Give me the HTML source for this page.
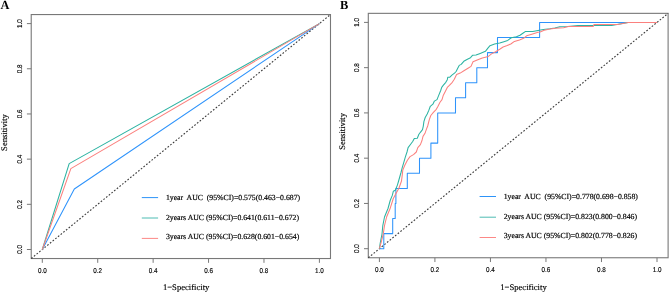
<!DOCTYPE html>
<html><head><meta charset="utf-8"><title>ROC curves</title>
<style>
html,body{margin:0;padding:0;background:#fff;}
body{width:669px;height:293px;overflow:hidden;}
svg{display:block;will-change:transform;}
text{text-rendering:geometricPrecision;}
.tk{font-family:"Liberation Sans",sans-serif;font-size:7px;fill:#000;stroke:#000;stroke-width:0.15px;}
.ttl{font-family:"Liberation Serif",serif;font-size:8.6px;fill:#000;stroke:#000;stroke-width:0.15px;}
.lg{font-family:"Liberation Serif",serif;font-size:7.75px;fill:#000;stroke:#000;stroke-width:0.18px;white-space:pre;}
.pl{font-family:"Liberation Serif",serif;font-size:12.4px;font-weight:bold;fill:#000;}
</style></head>
<body>
<svg width="669" height="293" viewBox="0 0 669 293">
<rect x="31.22" y="14.56" width="299.27" height="243.97" fill="none" stroke="#787878" stroke-width="1.1"/>
<line x1="42.30" y1="258.54" x2="42.30" y2="262.84" stroke="#787878" stroke-width="1"/>
<line x1="31.22" y1="249.50" x2="26.92" y2="249.50" stroke="#787878" stroke-width="1"/>
<text transform="translate(42.30,273.04) scale(0.9,1)" class="tk" text-anchor="middle">0.0</text>
<text transform="translate(22.02,249.50) rotate(-90) scale(0.9,1)" class="tk" text-anchor="middle">0.0</text>
<line x1="97.72" y1="258.54" x2="97.72" y2="262.84" stroke="#787878" stroke-width="1"/>
<line x1="31.22" y1="204.32" x2="26.92" y2="204.32" stroke="#787878" stroke-width="1"/>
<text transform="translate(97.72,273.04) scale(0.9,1)" class="tk" text-anchor="middle">0.2</text>
<text transform="translate(22.02,204.32) rotate(-90) scale(0.9,1)" class="tk" text-anchor="middle">0.2</text>
<line x1="153.14" y1="258.54" x2="153.14" y2="262.84" stroke="#787878" stroke-width="1"/>
<line x1="31.22" y1="159.14" x2="26.92" y2="159.14" stroke="#787878" stroke-width="1"/>
<text transform="translate(153.14,273.04) scale(0.9,1)" class="tk" text-anchor="middle">0.4</text>
<text transform="translate(22.02,159.14) rotate(-90) scale(0.9,1)" class="tk" text-anchor="middle">0.4</text>
<line x1="208.56" y1="258.54" x2="208.56" y2="262.84" stroke="#787878" stroke-width="1"/>
<line x1="31.22" y1="113.96" x2="26.92" y2="113.96" stroke="#787878" stroke-width="1"/>
<text transform="translate(208.56,273.04) scale(0.9,1)" class="tk" text-anchor="middle">0.6</text>
<text transform="translate(22.02,113.96) rotate(-90) scale(0.9,1)" class="tk" text-anchor="middle">0.6</text>
<line x1="263.98" y1="258.54" x2="263.98" y2="262.84" stroke="#787878" stroke-width="1"/>
<line x1="31.22" y1="68.78" x2="26.92" y2="68.78" stroke="#787878" stroke-width="1"/>
<text transform="translate(263.98,273.04) scale(0.9,1)" class="tk" text-anchor="middle">0.8</text>
<text transform="translate(22.02,68.78) rotate(-90) scale(0.9,1)" class="tk" text-anchor="middle">0.8</text>
<line x1="319.40" y1="258.54" x2="319.40" y2="262.84" stroke="#787878" stroke-width="1"/>
<line x1="31.22" y1="23.60" x2="26.92" y2="23.60" stroke="#787878" stroke-width="1"/>
<text transform="translate(319.40,273.04) scale(0.9,1)" class="tk" text-anchor="middle">1.0</text>
<text transform="translate(22.02,23.60) rotate(-90) scale(0.9,1)" class="tk" text-anchor="middle">1.0</text>
<line x1="31.22" y1="258.54" x2="330.48" y2="14.56" stroke="#3c3c3c" stroke-width="1.12" stroke-dasharray="1.7 1.75"/>
<text x="186.15" y="290.34" class="ttl" text-anchor="middle">1−Specificity</text>
<text transform="translate(7.32,132.50) rotate(-90)" class="ttl" text-anchor="middle">Sensitivity</text>
<polyline points="42.30,249.50 74.31,188.96 319.40,23.60" fill="none" stroke="#2e93fb" stroke-width="1.05" stroke-linejoin="round"/>
<polyline points="42.30,249.50 69.18,163.66 319.40,23.60" fill="none" stroke="#2cb3a2" stroke-width="1.05" stroke-linejoin="round"/>
<polyline points="42.30,249.50 70.84,168.63 319.40,23.60" fill="none" stroke="#fb807e" stroke-width="1.05" stroke-linejoin="round"/>
<line x1="141.8" y1="197.6" x2="158.1" y2="197.6" stroke="#2d93f8" stroke-width="1.0"/>
<text x="165.9" y="200.0" class="lg" xml:space="preserve">1year  AUC  (95%CI)=0.575(0.463−0.687)</text>
<line x1="141.8" y1="218.0" x2="158.1" y2="218.0" stroke="#4dbcb3" stroke-width="1.0"/>
<text x="165.9" y="219.7" class="lg" xml:space="preserve">2years AUC (95%CI)=0.641(0.611−0.672)</text>
<line x1="141.8" y1="238.4" x2="158.1" y2="238.4" stroke="#fc8886" stroke-width="1.0"/>
<text x="165.9" y="238.9" class="lg" xml:space="preserve">3years AUC (95%CI)=0.628(0.601−0.654)</text>
<rect x="368.30" y="13.35" width="299.81" height="244.40" fill="none" stroke="#787878" stroke-width="1.1"/>
<line x1="379.40" y1="257.75" x2="379.40" y2="262.05" stroke="#787878" stroke-width="1"/>
<line x1="368.30" y1="248.70" x2="364.00" y2="248.70" stroke="#787878" stroke-width="1"/>
<text transform="translate(379.40,272.25) scale(0.9,1)" class="tk" text-anchor="middle">0.0</text>
<text transform="translate(359.10,248.70) rotate(-90) scale(0.9,1)" class="tk" text-anchor="middle">0.0</text>
<line x1="434.92" y1="257.75" x2="434.92" y2="262.05" stroke="#787878" stroke-width="1"/>
<line x1="368.30" y1="203.44" x2="364.00" y2="203.44" stroke="#787878" stroke-width="1"/>
<text transform="translate(434.92,272.25) scale(0.9,1)" class="tk" text-anchor="middle">0.2</text>
<text transform="translate(359.10,203.44) rotate(-90) scale(0.9,1)" class="tk" text-anchor="middle">0.2</text>
<line x1="490.44" y1="257.75" x2="490.44" y2="262.05" stroke="#787878" stroke-width="1"/>
<line x1="368.30" y1="158.18" x2="364.00" y2="158.18" stroke="#787878" stroke-width="1"/>
<text transform="translate(490.44,272.25) scale(0.9,1)" class="tk" text-anchor="middle">0.4</text>
<text transform="translate(359.10,158.18) rotate(-90) scale(0.9,1)" class="tk" text-anchor="middle">0.4</text>
<line x1="545.96" y1="257.75" x2="545.96" y2="262.05" stroke="#787878" stroke-width="1"/>
<line x1="368.30" y1="112.92" x2="364.00" y2="112.92" stroke="#787878" stroke-width="1"/>
<text transform="translate(545.96,272.25) scale(0.9,1)" class="tk" text-anchor="middle">0.6</text>
<text transform="translate(359.10,112.92) rotate(-90) scale(0.9,1)" class="tk" text-anchor="middle">0.6</text>
<line x1="601.48" y1="257.75" x2="601.48" y2="262.05" stroke="#787878" stroke-width="1"/>
<line x1="368.30" y1="67.66" x2="364.00" y2="67.66" stroke="#787878" stroke-width="1"/>
<text transform="translate(601.48,272.25) scale(0.9,1)" class="tk" text-anchor="middle">0.8</text>
<text transform="translate(359.10,67.66) rotate(-90) scale(0.9,1)" class="tk" text-anchor="middle">0.8</text>
<line x1="657.00" y1="257.75" x2="657.00" y2="262.05" stroke="#787878" stroke-width="1"/>
<line x1="368.30" y1="22.40" x2="364.00" y2="22.40" stroke="#787878" stroke-width="1"/>
<text transform="translate(657.00,272.25) scale(0.9,1)" class="tk" text-anchor="middle">1.0</text>
<text transform="translate(359.10,22.40) rotate(-90) scale(0.9,1)" class="tk" text-anchor="middle">1.0</text>
<line x1="368.30" y1="257.75" x2="668.10" y2="13.35" stroke="#3c3c3c" stroke-width="1.12" stroke-dasharray="1.7 1.75"/>
<text x="523.50" y="289.55" class="ttl" text-anchor="middle">1−Specificity</text>
<text transform="translate(345.20,131.40) rotate(-90)" class="ttl" text-anchor="middle">Sensitivity</text>
<polyline points="379.40,248.70 383.80,248.70 383.80,233.60 392.70,233.60 392.70,218.50 395.20,218.50 395.20,203.50 395.90,203.50 395.90,188.40 407.30,188.40 407.30,173.30 419.50,173.30 419.50,158.20 430.90,158.20 430.90,143.10 437.70,143.10 437.70,112.90 455.50,112.90 455.50,97.80 465.60,97.80 465.60,82.80 476.80,82.80 476.80,67.70 487.50,67.70 487.50,52.60 497.50,52.60 497.50,37.50 539.60,37.50 539.60,22.40 657.00,22.40" fill="none" stroke="#2e93fb" stroke-width="1.05" stroke-linejoin="round"/>
<polyline points="379.40,248.70 380.30,242.70 382.00,234.10 382.80,225.60 384.50,217.00 388.00,208.50 390.20,200.50 392.30,195.40 393.30,191.30 395.30,190.30 397.40,185.10 398.60,181.00 401.00,172.50 402.30,167.40 403.80,162.30 405.30,157.10 407.00,152.00 408.10,147.60 411.20,143.50 412.70,141.50 414.30,138.40 417.30,138.20 418.90,134.30 420.40,132.30 422.50,129.70 423.30,126.10 423.90,121.60 425.20,117.50 427.20,114.00 428.80,110.40 430.30,106.30 432.90,104.20 434.40,101.10 437.00,99.60 438.60,95.60 440.70,90.50 441.70,87.40 443.20,85.40 445.80,82.30 447.30,79.70 447.80,77.20 449.90,77.20 451.90,75.10 454.50,73.10 456.10,71.50 457.60,68.50 459.20,65.40 461.20,64.40 463.80,61.30 467.40,59.20 470.50,57.70 472.50,55.30 476.00,55.00 480.20,53.40 485.40,51.30 487.90,48.20 490.00,45.70 494.60,44.10 499.70,43.10 503.10,41.90 507.70,40.40 511.30,37.80 516.40,36.80 520.00,35.30 523.60,32.70 525.60,31.40 532.80,31.40 538.00,30.40 543.40,29.50 549.90,28.70 554.90,27.90 559.80,26.70 567.80,26.50 578.00,25.50 593.50,25.50 611.60,25.50 628.00,22.60 657.00,22.40" fill="none" stroke="#2cb3a2" stroke-width="1.05" stroke-linejoin="round"/>
<polyline points="379.40,248.70 381.10,242.70 383.20,234.10 384.50,225.60 386.60,217.00 390.00,208.80 393.30,198.50 396.40,192.80 398.90,188.20 401.50,181.00 402.30,174.60 402.80,170.00 404.80,165.30 407.40,160.20 410.00,156.60 413.50,154.60 416.30,152.00 417.80,147.60 420.40,144.60 422.00,140.50 423.00,136.40 425.00,133.30 426.80,128.20 427.70,126.00 429.30,119.60 430.80,115.50 433.40,112.40 436.30,109.30 438.00,106.30 440.00,102.20 442.00,99.60 443.20,95.60 445.30,91.50 447.30,87.40 449.40,85.40 452.30,82.30 454.30,79.20 456.60,74.60 460.20,73.10 464.30,70.50 468.40,68.00 471.00,66.40 473.00,61.80 477.20,60.00 482.30,58.00 488.40,56.40 491.50,53.90 495.60,51.80 499.70,49.30 503.10,47.00 507.20,45.50 510.80,44.00 514.40,41.40 519.50,39.90 523.60,38.30 526.60,35.80 531.80,34.20 538.00,32.20 540.10,32.00 544.20,30.30 549.90,29.10 555.70,28.30 563.60,27.80 568.40,26.50 593.20,26.50 594.00,24.40 617.60,24.40 628.30,22.60 657.00,22.40" fill="none" stroke="#fb807e" stroke-width="1.05" stroke-linejoin="round"/>
<line x1="479.6" y1="196.5" x2="496.0" y2="196.5" stroke="#2d93f8" stroke-width="1.0"/>
<text x="503.7" y="198.7" class="lg" xml:space="preserve">1year  AUC  (95%CI)=0.778(0.698−0.858)</text>
<line x1="479.6" y1="217.2" x2="496.0" y2="217.2" stroke="#4dbcb3" stroke-width="1.0"/>
<text x="503.7" y="218.5" class="lg" xml:space="preserve">2years AUC (95%CI)=0.823(0.800−0.846)</text>
<line x1="479.6" y1="237.5" x2="496.0" y2="237.5" stroke="#fc8886" stroke-width="1.0"/>
<text x="503.7" y="237.6" class="lg" xml:space="preserve">3years AUC (95%CI)=0.802(0.778−0.826)</text>
<text x="0.6" y="9.2" class="pl">A</text>
<text x="339.9" y="9.3" class="pl">B</text>
</svg>
</body></html>
